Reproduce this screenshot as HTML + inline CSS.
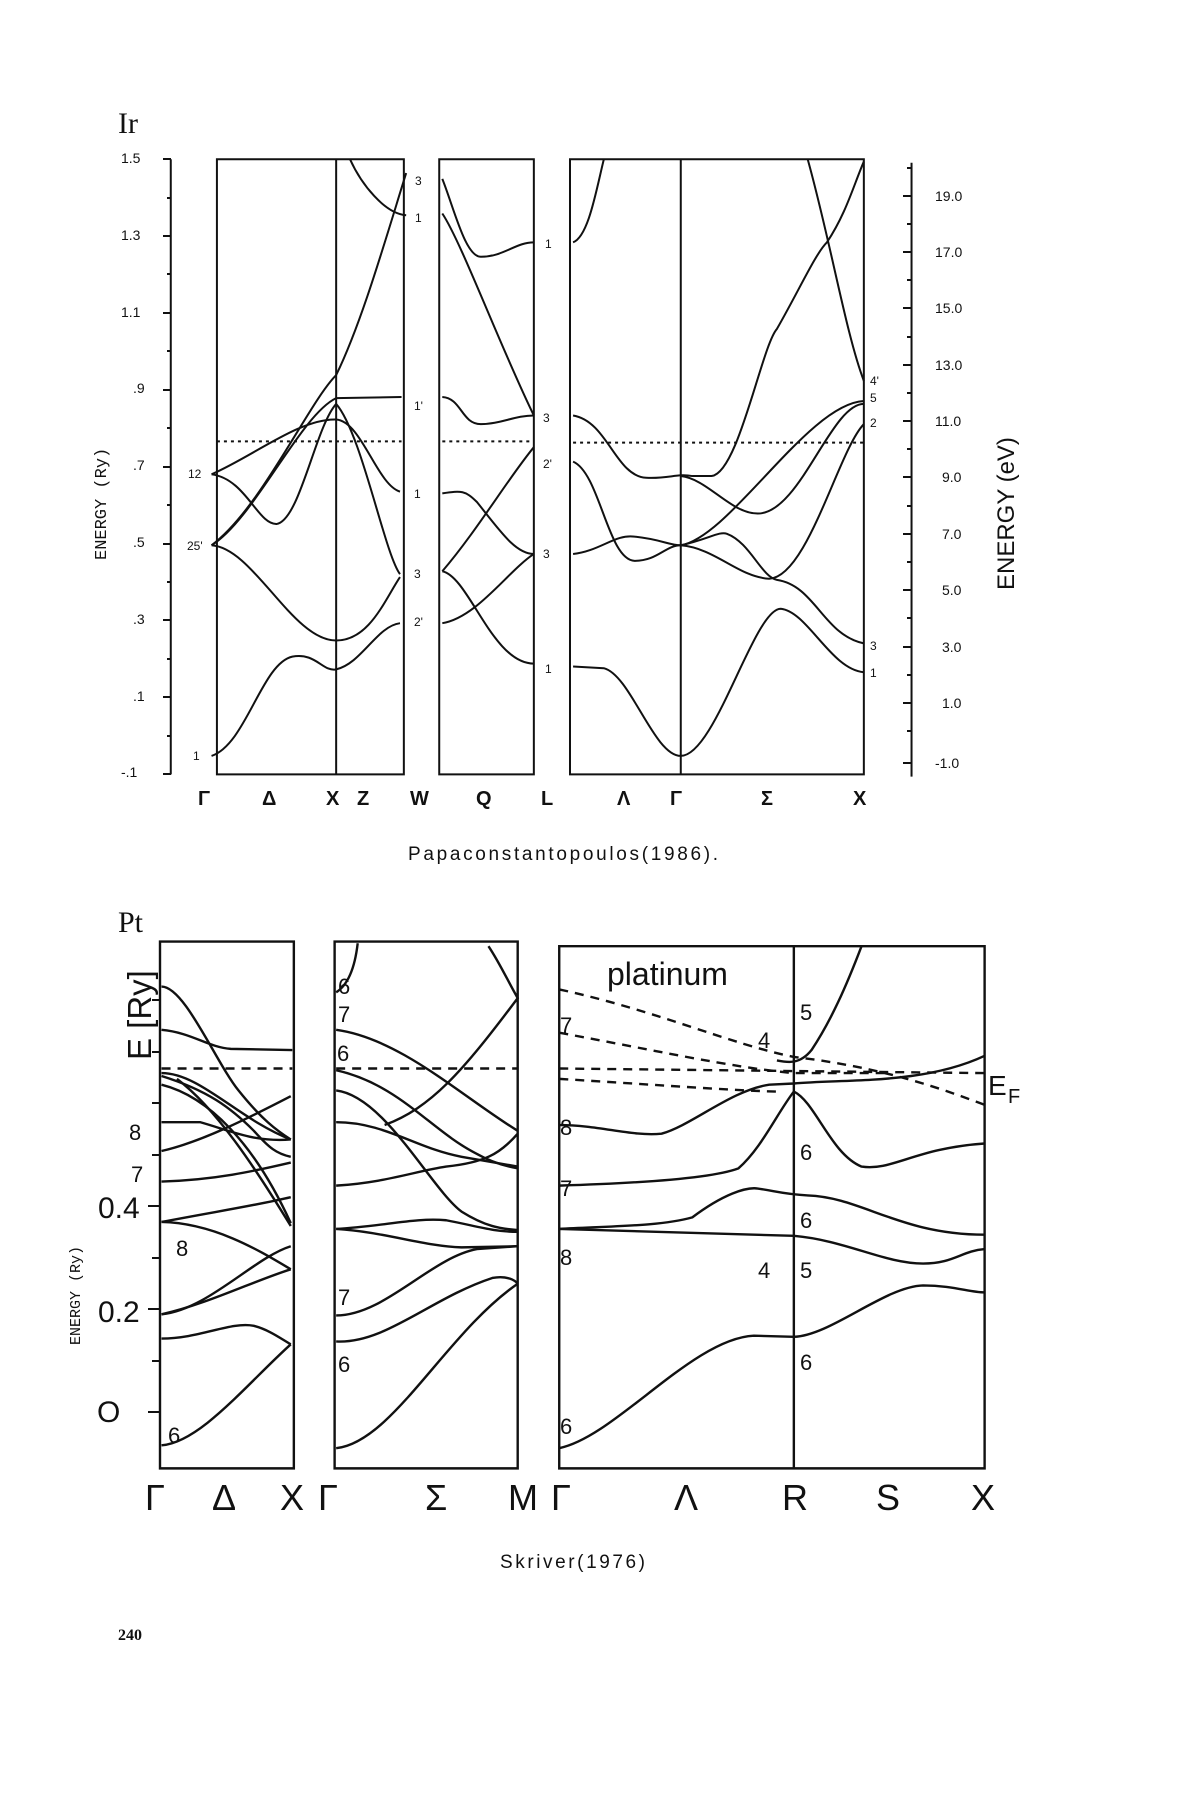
<!DOCTYPE html>
<html><head><meta charset="utf-8"><style>
html,body{margin:0;padding:0;background:#fff;}
svg{display:block}
text{font-family:"Liberation Sans",sans-serif;fill:#111}
.m{font-family:"Liberation Mono",monospace}
.s{font-family:"Liberation Serif",serif}
</style></head><body>
<svg width="1200" height="1800" viewBox="0 0 1200 1800" xmlns="http://www.w3.org/2000/svg">
<rect width="1200" height="1800" fill="#fff"/>
<!-- TOP PLOT in zoom coords -->
<g transform="scale(0.76923,0.57703)" fill="none" stroke="#111" stroke-width="2" vector-effect="non-scaling-stroke">
<g vector-effect="non-scaling-stroke">
<rect x="282" y="276" width="243" height="1066" vector-effect="non-scaling-stroke"/>
<line x1="437" y1="276" x2="437" y2="1342" vector-effect="non-scaling-stroke"/>
<rect x="571" y="276" width="123" height="1066" vector-effect="non-scaling-stroke"/>
<rect x="741" y="276" width="382" height="1066" vector-effect="non-scaling-stroke"/>
<line x1="885" y1="276" x2="885" y2="1342" vector-effect="non-scaling-stroke"/>
<line x1="222" y1="276" x2="222" y2="1342" vector-effect="non-scaling-stroke"/>
<line x1="1185" y1="282" x2="1185" y2="1346" vector-effect="non-scaling-stroke"/>
<path vector-effect="non-scaling-stroke" d="M275,1310 C320,1290 340,1150 380,1138 C410,1130 420,1165 437,1160 C470,1150 490,1085 520,1080"/>
<path vector-effect="non-scaling-stroke" d="M275,945 C330,950 380,1110 437,1110 C480,1110 500,1040 520,1000"/>
<path vector-effect="non-scaling-stroke" d="M275,945 C330,900 390,720 437,690 L522,688"/>
<path vector-effect="non-scaling-stroke" d="M275,945 C340,880 400,700 437,650 C470,560 500,420 528,300"/>
<path vector-effect="non-scaling-stroke" d="M275,822 C320,830 335,910 360,908 C390,900 410,740 437,700 C470,750 500,960 520,995"/>
<path vector-effect="non-scaling-stroke" d="M275,822 C330,790 390,725 437,727 C470,730 490,840 520,852"/>
<path vector-effect="non-scaling-stroke" d="M455,276 C470,320 500,370 528,373"/>
<path vector-effect="non-scaling-stroke" d="M575,310 C590,360 605,445 625,445 C655,445 670,420 694,420"/>
<path vector-effect="non-scaling-stroke" d="M575,370 C600,420 650,600 694,720"/>
<path vector-effect="non-scaling-stroke" d="M575,688 C600,690 600,735 625,735 C650,735 670,720 694,720"/>
<path vector-effect="non-scaling-stroke" d="M575,855 C600,850 605,850 620,870 C650,920 670,960 694,960"/>
<path vector-effect="non-scaling-stroke" d="M575,990 C620,920 660,830 694,775"/>
<path vector-effect="non-scaling-stroke" d="M575,990 C610,1000 640,1150 694,1150"/>
<path vector-effect="non-scaling-stroke" d="M575,1080 C620,1070 660,990 694,960"/>
<path vector-effect="non-scaling-stroke" d="M745,420 C765,410 775,330 785,276"/>
<path vector-effect="non-scaling-stroke" d="M745,720 C790,730 800,825 840,828 C870,830 880,820 900,825 L925,825 C960,820 990,600 1010,570 C1040,500 1060,440 1075,420 C1100,370 1110,320 1123,280"/>
<path vector-effect="non-scaling-stroke" d="M1050,276 C1080,420 1100,580 1123,660"/>
<path vector-effect="non-scaling-stroke" d="M745,800 C780,820 790,970 825,972 C855,972 865,945 885,945 C930,950 960,1000 1000,1003 C1050,1000 1090,780 1123,735"/>
<path vector-effect="non-scaling-stroke" d="M745,960 C780,955 800,925 825,930 C860,935 870,945 885,945 C950,930 1050,700 1123,695"/>
<path vector-effect="non-scaling-stroke" d="M885,825 C920,830 950,890 985,890 C1040,890 1080,700 1123,700"/>
<path vector-effect="non-scaling-stroke" d="M885,945 C920,935 935,920 945,925 C975,940 990,1000 1010,1005 C1060,1015 1070,1100 1123,1115"/>
<path vector-effect="non-scaling-stroke" d="M745,1155 L785,1158 C820,1170 850,1310 885,1310 C930,1310 980,1055 1015,1055 C1050,1060 1080,1160 1123,1165"/>
<path vector-effect="non-scaling-stroke" stroke-dasharray="3,4" d="M282,765 L522,765 M575,765 L694,765 M745,767 L1123,767"/>
</g></g>
<!-- top axis ticks -->
<g stroke="#111" stroke-width="2">
<path d="M171,159 h-8 M171,198 h-4 M171,236 h-8 M171,274 h-4 M171,313 h-8 M171,351 h-4 M171,390 h-8 M171,428 h-4 M171,467 h-8 M171,505 h-4 M171,544 h-8 M171,582 h-4 M171,620 h-8 M171,659 h-4 M171,697 h-8 M171,736 h-4 M171,774 h-8"/>
<path d="M912,168 h-5 M912,196 h-9 M912,224 h-5 M912,252 h-9 M912,280 h-5 M912,308 h-9 M912,337 h-5 M912,365 h-9 M912,393 h-5 M912,421 h-9 M912,449 h-5 M912,477 h-9 M912,506 h-5 M912,534 h-9 M912,562 h-5 M912,590 h-9 M912,618 h-5 M912,647 h-9 M912,675 h-5 M912,703 h-9 M912,731 h-5 M912,763 h-9"/>
</g>
<g class="m" font-size="14">
<text x="121" y="163">1.5</text><text x="121" y="240">1.3</text><text x="121" y="317">1.1</text>
<text x="133" y="393">.9</text><text x="133" y="470">.7</text><text x="133" y="547">.5</text>
<text x="133" y="624">.3</text><text x="133" y="701">.1</text><text x="121" y="777">-.1</text>
<text x="935" y="201">19.0</text><text x="935" y="257">17.0</text><text x="935" y="313">15.0</text>
<text x="935" y="370">13.0</text><text x="935" y="426">11.0</text><text x="942" y="482">9.0</text>
<text x="942" y="539">7.0</text><text x="942" y="595">5.0</text><text x="942" y="652">3.0</text>
<text x="942" y="708">1.0</text><text x="935" y="768">-1.0</text>
</g>
<text class="m" font-size="17" transform="translate(106,560) rotate(-90)">ENERGY  (Ry)</text>
<text font-size="24" transform="translate(1014,590) rotate(-90)">ENERGY  (eV)</text>
<g class="s" font-size="12">
<text x="188" y="478">12</text><text x="187" y="550">25'</text><text x="193" y="760">1</text>
<text x="415" y="185">3</text><text x="415" y="222">1</text><text x="414" y="410">1'</text>
<text x="414" y="498">1</text><text x="414" y="578">3</text><text x="414" y="626">2'</text>
<text x="545" y="248">1</text><text x="543" y="422">3</text><text x="543" y="468">2'</text>
<text x="543" y="558">3</text><text x="545" y="673">1</text>
<text x="870" y="385">4'</text><text x="870" y="402">5</text><text x="870" y="427">2</text>
<text x="870" y="650">3</text><text x="870" y="677">1</text>
</g>
<g class="s" font-size="20" font-weight="bold">
<text x="198" y="805">Γ</text><text x="262" y="805">Δ</text><text x="326" y="805">X</text><text x="357" y="805">Z</text>
<text x="410" y="805">W</text><text x="476" y="805">Q</text><text x="541" y="805">L</text><text x="617" y="805">Λ</text>
<text x="670" y="805">Γ</text><text x="761" y="805">Σ</text><text x="853" y="805">X</text>
</g>
<text class="s" font-size="30" x="118" y="133">Ir</text>
<text font-size="19" x="408" y="860" textLength="310">Papaconstantopoulos(1986).</text>

<!-- BOTTOM PLOT -->
<g transform="translate(0,900) scale(0.76923,0.57703)" fill="none" stroke="#111" stroke-width="2.4">
<rect vector-effect="non-scaling-stroke" x="208" y="72" width="174" height="913"/>
<rect vector-effect="non-scaling-stroke" x="435" y="72" width="238" height="913"/>
<rect vector-effect="non-scaling-stroke" x="727" y="80" width="553" height="905"/>
<line vector-effect="non-scaling-stroke" x1="1032" y1="80" x2="1032" y2="985"/>
<path vector-effect="non-scaling-stroke" stroke-dasharray="9,7" d="M210,292 L380,292 M437,292 L673,292 M727,292 L1280,300"/>
<path vector-effect="non-scaling-stroke" stroke-dasharray="9,7" d="M727,155 C850,190 950,250 1032,272 C1150,290 1230,330 1280,355 M727,230 C850,260 950,290 1032,300 L1150,300 M727,310 C850,320 950,330 1010,332"/>
<!-- panel1 -->
<path vector-effect="non-scaling-stroke" d="M210,945 C260,940 320,840 378,770"/>
<path vector-effect="non-scaling-stroke" d="M210,760 C260,760 300,730 330,738 C350,745 365,760 378,770"/>
<path vector-effect="non-scaling-stroke" d="M210,718 C270,710 330,620 378,600"/>
<path vector-effect="non-scaling-stroke" d="M210,718 C270,700 330,660 378,640"/>
<path vector-effect="non-scaling-stroke" d="M210,558 C280,560 340,610 378,640"/>
<path vector-effect="non-scaling-stroke" d="M210,558 C280,540 330,530 378,515"/>
<path vector-effect="non-scaling-stroke" d="M210,488 C280,485 330,470 378,455"/>
<path vector-effect="non-scaling-stroke" d="M210,385 L260,385 C300,400 330,420 378,415"/>
<path vector-effect="non-scaling-stroke" d="M210,150 C240,150 280,280 310,330 C340,380 360,400 378,415"/>
<path vector-effect="non-scaling-stroke" d="M210,225 C250,230 270,255 300,258 L380,260"/>
<path vector-effect="non-scaling-stroke" d="M210,300 C260,300 310,380 378,415"/>
<path vector-effect="non-scaling-stroke" d="M210,320 C270,340 330,420 378,560"/>
<path vector-effect="non-scaling-stroke" d="M230,310 C280,360 330,460 378,565"/>
<path vector-effect="non-scaling-stroke" d="M210,305 C270,330 300,360 330,400 C350,430 360,440 378,445"/>
<path vector-effect="non-scaling-stroke" d="M210,435 C260,420 320,380 378,340"/>
<!-- panel2 -->
<path vector-effect="non-scaling-stroke" d="M437,950 C510,940 580,750 673,665"/>
<path vector-effect="non-scaling-stroke" d="M437,765 C500,770 560,690 640,655 C660,650 670,660 673,665"/>
<path vector-effect="non-scaling-stroke" d="M437,720 C500,720 560,620 620,605 L673,600"/>
<path vector-effect="non-scaling-stroke" d="M437,570 C500,565 540,550 580,555 C620,565 640,575 673,575"/>
<path vector-effect="non-scaling-stroke" d="M437,570 C500,575 550,600 600,602 L673,600"/>
<path vector-effect="non-scaling-stroke" d="M437,495 C500,490 540,470 580,462 C630,455 650,440 673,405"/>
<path vector-effect="non-scaling-stroke" d="M437,385 C500,385 540,430 600,445 L673,462"/>
<path vector-effect="non-scaling-stroke" d="M437,330 C500,340 560,500 600,540 C630,565 650,570 673,572"/>
<path vector-effect="non-scaling-stroke" d="M437,225 C520,240 600,340 673,400"/>
<path vector-effect="non-scaling-stroke" d="M437,295 C520,320 560,400 620,440 C640,455 660,462 673,465"/>
<path vector-effect="non-scaling-stroke" d="M500,390 C560,360 600,300 673,170 C660,140 650,110 635,80"/>
<path vector-effect="non-scaling-stroke" d="M437,160 C455,145 462,110 465,75"/>
<!-- panel3 -->
<path vector-effect="non-scaling-stroke" d="M727,950 C800,930 900,760 980,755 L1032,757 C1080,755 1150,670 1200,668 C1240,668 1260,680 1280,680"/>
<path vector-effect="non-scaling-stroke" d="M727,570 C800,565 860,565 900,550 C940,510 970,497 985,500 C1010,505 1020,510 1050,512 C1120,515 1170,580 1280,580"/>
<path vector-effect="non-scaling-stroke" d="M727,570 C850,575 950,580 1032,582 C1100,590 1150,630 1200,630 C1240,630 1250,608 1280,605"/>
<path vector-effect="non-scaling-stroke" d="M727,495 C850,490 930,480 960,465 C990,430 1010,370 1032,332 C1060,350 1080,440 1120,462 C1160,470 1190,430 1280,422"/>
<path vector-effect="non-scaling-stroke" d="M727,390 C780,390 820,410 860,405 C900,390 950,330 1000,320 L1032,318 C1100,310 1200,320 1280,270"/>
<path vector-effect="non-scaling-stroke" d="M1010,278 C1025,282 1040,285 1055,260 C1080,210 1100,150 1120,80"/>
</g>
<g stroke="#111" stroke-width="2">
<path d="M160,1412 h-12 M160,1361 h-8 M160,1309 h-12 M160,1258 h-8 M160,1206 h-12 M160,1155 h-8 M160,1103 h-8 M160,1052 h-8 M160,1000 h-8"/>
</g>
<g font-size="30">
<text x="97" y="1422">O</text><text x="98" y="1322">0.2</text><text x="98" y="1218">0.4</text>
</g>
<text font-size="33" transform="translate(151,1060) rotate(-90)">E [Ry]</text>
<text class="m" font-size="15" transform="translate(80,1345) rotate(-90)">ENERGY  (Ry)</text>
<g font-size="22">
<text x="129" y="1140">8</text><text x="131" y="1182">7</text>
<text x="168" y="1443">6</text><text x="176" y="1256">8</text>
<text x="338" y="994">6</text><text x="338" y="1022">7</text><text x="337" y="1061">6</text>
<text x="338" y="1305">7</text><text x="338" y="1372">6</text>
<text x="560" y="1033">7</text><text x="560" y="1135">8</text><text x="560" y="1196">7</text>
<text x="560" y="1265">8</text><text x="560" y="1434">6</text>
<text x="758" y="1048">4</text><text x="800" y="1020">5</text><text x="800" y="1160">6</text>
<text x="800" y="1228">6</text><text x="758" y="1278">4</text><text x="800" y="1278">5</text>
<text x="800" y="1370">6</text>
</g>
<text font-size="32" x="607" y="985">platinum</text>
<text font-size="28" x="988" y="1095">E</text><text font-size="20" x="1008" y="1103">F</text>
<g font-size="36">
<text x="145" y="1510">Γ</text><text x="212" y="1510">Δ</text><text x="280" y="1510">X</text><text x="318" y="1510">Γ</text>
<text x="425" y="1510">Σ</text><text x="508" y="1510">M</text><text x="551" y="1510">Γ</text><text x="674" y="1510">Λ</text>
<text x="782" y="1510">R</text><text x="876" y="1510">S</text><text x="971" y="1510">X</text>
</g>
<text class="s" font-size="30" x="118" y="932">Pt</text>
<text font-size="19" x="500" y="1568" textLength="145">Skriver(1976)</text>
<text class="s" font-size="16" font-weight="bold" x="118" y="1640">240</text>
</svg>
</body></html>
